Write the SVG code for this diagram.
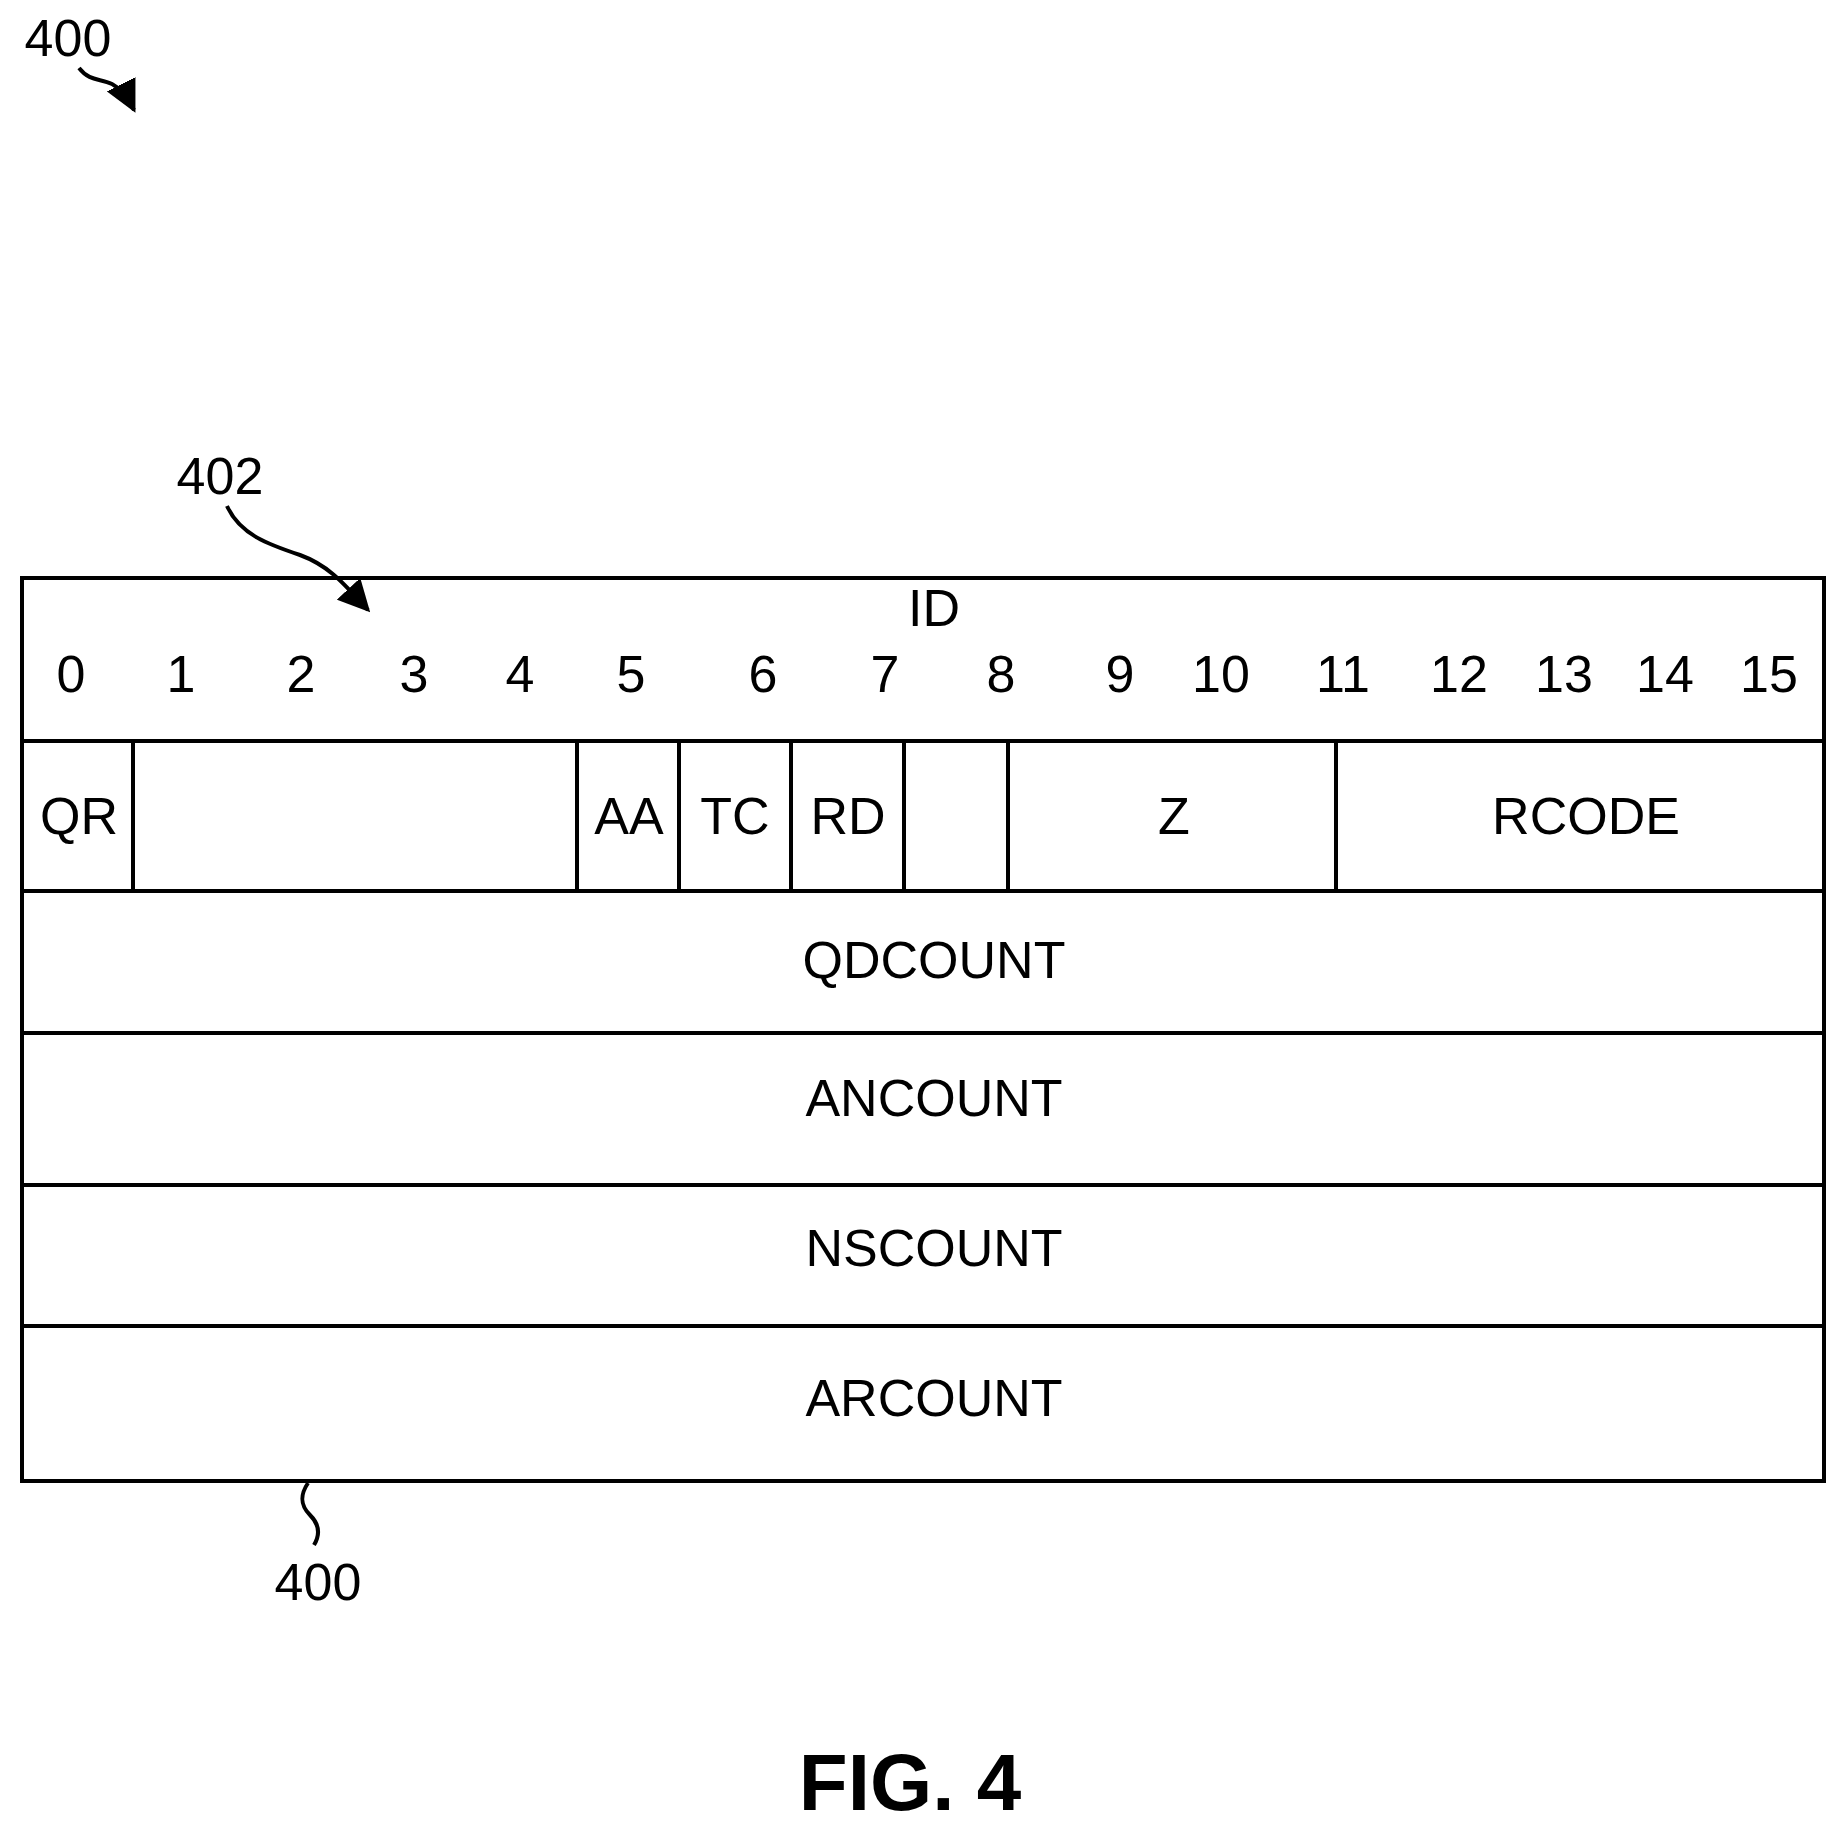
<svg xmlns="http://www.w3.org/2000/svg" width="1845" height="1827" viewBox="0 0 1845 1827">
<style>
text{font-family:"Liberation Sans Narrow","Liberation Sans",Arial,sans-serif;font-size:52px;text-anchor:middle;fill:#000}
.ln{stroke:#000;stroke-width:4;fill:none}
.fig{font-weight:bold;font-size:80px}
</style>
<defs><marker id="ah" viewBox="0 0 10 10" refX="9" refY="5" markerWidth="7" markerHeight="7" markerUnits="userSpaceOnUse" orient="auto"><path d="M0,0L10,5L0,10z"/></marker>
<marker id="a2" viewBox="0 0 10 10" refX="9" refY="5" markerWidth="8" markerHeight="8" orient="auto"><path d="M0,0L10,5L0,10z"/></marker></defs>
<g id="table">
<rect class="ln" x="22" y="578" width="1802" height="903"/>
<line class="ln" x1="22" y1="741" x2="1824" y2="741"/>
<line class="ln" x1="22" y1="891" x2="1824" y2="891"/>
<line class="ln" x1="22" y1="1033" x2="1824" y2="1033"/>
<line class="ln" x1="22" y1="1185" x2="1824" y2="1185"/>
<line class="ln" x1="22" y1="1326" x2="1824" y2="1326"/>
<g class="ln"><line x1="133" y1="741" x2="133" y2="891"/><line x1="577" y1="741" x2="577" y2="891"/><line x1="679" y1="741" x2="679" y2="891"/><line x1="791" y1="741" x2="791" y2="891"/><line x1="904" y1="741" x2="904" y2="891"/><line x1="1008" y1="741" x2="1008" y2="891"/><line x1="1336" y1="741" x2="1336" y2="891"/></g>
</g>
<g id="header-row"><text x="934" y="626">ID</text>
<text x="71" y="692">0</text><text x="181" y="692">1</text><text x="301" y="692">2</text><text x="414" y="692">3</text><text x="520" y="692">4</text><text x="631" y="692">5</text><text x="763" y="692">6</text><text x="885" y="692">7</text><text x="1001" y="692">8</text><text x="1120" y="692">9</text><text x="1221" y="692">10</text><text x="1343" y="692">11</text><text x="1459" y="692">12</text><text x="1564" y="692">13</text><text x="1665" y="692">14</text><text x="1769" y="692">15</text></g>
<g id="flags-row"><text x="79" y="834">QR</text><text x="629" y="834">AA</text><text x="735" y="834">TC</text><text x="848" y="834">RD</text><text x="1174" y="834">Z</text><text x="1586" y="834">RCODE</text></g>
<g id="qdcount"><text x="934" y="978">QDCOUNT</text></g>
<g id="ancount"><text x="934" y="1116">ANCOUNT</text></g>
<g id="nscount"><text x="934" y="1266">NSCOUNT</text></g>
<g id="arcount"><text x="934" y="1416">ARCOUNT</text></g>
<g id="labels"><text x="68" y="56">400</text><text x="220" y="494">402</text><text x="318" y="1600">400</text><text class="fig" x="910" y="1810">FIG. 4</text></g>
<g id="connectors">
<path class="ln" d="M79,68 C90,82 100,78 112,84 C122,89 128,98 134,110" marker-end="url(#a2)"/>
<path class="ln" d="M227,506 C240,535 270,545 300,555 C330,566 345,585 368,610" marker-end="url(#a2)"/>
<path class="ln" d="M308,1483 C300,1495 300,1505 310,1515 C320,1525 320,1535 314,1545"/>
</g>
</svg>
